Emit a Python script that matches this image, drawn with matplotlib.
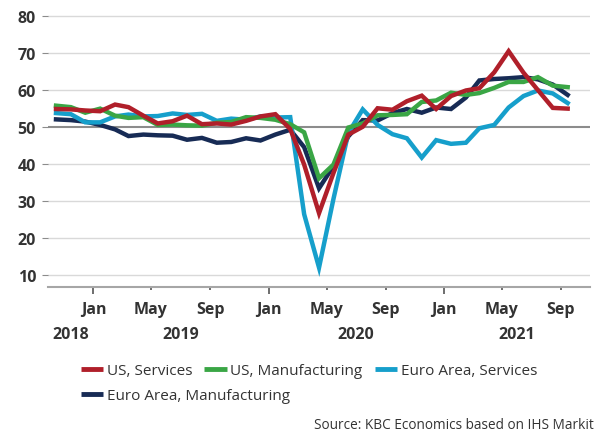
"""IHS Markit PMIs: US and Euro Area, services and manufacturing."""

import numpy as np
import pandas as pd
import matplotlib
matplotlib.use("Agg")
import matplotlib.pyplot as plt
import matplotlib.dates as mdates

plt.rcParams['font.family'] = ['Open Sans', 'DejaVu Sans']

# monthly values, Oct 2018 .. Sep 2021
months = pd.date_range('2018-10-01', periods=36, freq='MS') + pd.Timedelta(days=14)

us_services = [54.8, 54.7, 54.4, 54.2, 56.0, 55.3, 53.0, 50.9, 51.5, 53.0, 50.7, 50.9,
               50.6, 51.6, 52.8, 53.4, 49.4, 39.8, 26.7, 37.5, 47.9, 50.0, 55.0, 54.6,
               56.9, 58.4, 54.8, 58.3, 59.8, 60.4, 64.7, 70.4, 64.6, 59.9, 55.1, 54.9]
us_manufacturing = [55.7, 55.3, 53.8, 54.9, 53.0, 52.4, 52.6, 50.5, 50.6, 50.4, 50.3, 51.1,
                    51.3, 52.6, 52.4, 51.9, 50.7, 48.5, 36.1, 39.8, 49.8, 50.9, 53.1, 53.2,
                    53.4, 56.7, 57.1, 59.2, 58.6, 59.1, 60.5, 62.1, 62.1, 63.4, 61.1, 60.7]
ea_services = [53.7, 53.4, 51.2, 51.2, 52.8, 53.3, 52.8, 52.9, 53.6, 53.2, 53.5, 51.6,
               52.2, 51.9, 52.8, 52.5, 52.6, 26.4, 12.0, 30.5, 48.3, 54.7, 50.5, 48.0,
               46.9, 41.7, 46.4, 45.4, 45.7, 49.6, 50.5, 55.2, 58.3, 59.8, 59.0, 56.4]
ea_manufacturing = [52.0, 51.8, 51.4, 50.5, 49.3, 47.5, 47.9, 47.7, 47.6, 46.5, 47.0, 45.7,
                    45.9, 46.9, 46.3, 47.9, 49.2, 44.5, 33.4, 39.4, 47.4, 51.8, 51.7, 53.7,
                    54.8, 53.8, 55.2, 54.8, 57.9, 62.5, 62.9, 63.1, 63.4, 62.8, 61.4, 58.6]

series_names = ['US, Services', 'US, Manufacturing', 'Euro Area, Services',
                'Euro Area, Manufacturing']
colors = ['#B01F2A', '#3AA645', '#169FCB', '#172B55']

y_ticks = [10, 20, 30, 40, 50, 60, 70, 80]
year_labels = ['2018', '2019', '2020', '2021']
year_dates = pd.to_datetime(['2018-11-15', '2019-07-01', '2020-07-01', '2021-06-01'])

text_col = '#333333'

fig = plt.figure(figsize=(5.98, 4.35), dpi=100)
ax = fig.add_axes([0.080, 0.338, 0.907, 0.634])

# gridlines; 50 line is darker
for v in y_ticks:
    if v == 50:
        ax.axhline(v, color='#8c8c8c', lw=1.5, zorder=1)
    else:
        ax.axhline(v, color='#d9d9d9', lw=1.0, zorder=1)

zorders = [3.4, 3.3, 3.2, 3.1]
lines = []
for vals, name, c, z in zip([us_services, us_manufacturing, ea_services, ea_manufacturing],
                            series_names, colors, zorders):
    ln, = ax.plot(months, vals, color=c, lw=3.2, label=name, zorder=z,
                  solid_joinstyle='miter')
    lines.append(ln)

ax.set_ylim(6.77, 81.2)
ax.set_xlim(pd.Timestamp('2018-09-28'), pd.Timestamp('2021-11-01'))
ax.set_yticks(y_ticks)

ax.xaxis.set_major_locator(mdates.MonthLocator(bymonth=[1]))
ax.xaxis.set_major_formatter(mdates.DateFormatter('%b'))
ax.xaxis.set_minor_locator(mdates.MonthLocator(bymonth=[5, 9]))
ax.xaxis.set_minor_formatter(mdates.DateFormatter('%b'))

for s in ['top', 'right', 'left']:
    ax.spines[s].set_visible(False)
ax.spines['bottom'].set_color('#a6a6a6')
ax.spines['bottom'].set_linewidth(1.5)

ax.tick_params(axis='x', which='major', length=5, width=1.2, color='#555555',
               pad=5, labelsize=11.5, labelcolor=text_col)
ax.tick_params(axis='x', which='minor', length=2.2, width=1.2, color='#555555',
               pad=7.8, labelsize=11.5, labelcolor=text_col)
ax.tick_params(axis='y', length=4.5, width=0.8, color='#8c8c8c', pad=4,
               labelsize=11.5, labelcolor=text_col)
for lab in ax.get_xticklabels(which='both') + ax.get_yticklabels():
    lab.set_fontweight('bold')

for lab, d in zip(year_labels, year_dates):
    ax.annotate(lab, xy=(d, 0), xycoords=('data', 'axes fraction'),
                xytext=(0, -34), textcoords='offset points', ha='center', va='center',
                fontsize=11.5, fontweight='bold', color=text_col)

# legend flows like text: three entries on the first row, one on the second
leg_kw = dict(loc='upper left', frameon=False, fontsize=11, handlelength=1.45,
              handletextpad=0.25, columnspacing=0.8, borderaxespad=0, borderpad=0)
leg1 = fig.legend(handles=lines[:3], ncol=3, bbox_to_anchor=(0.135, 0.163), **leg_kw)
leg2 = fig.legend(handles=lines[3:], ncol=1, bbox_to_anchor=(0.135, 0.106), **leg_kw)
for leg in (leg1, leg2):
    for t in leg.get_texts():
        t.set_color(text_col)
    for h in leg.get_lines():
        h.set_linewidth(3.5)
        h.set_solid_capstyle('butt')

fig.text(0.993, 0.022, 'Source: KBC Economics based on IHS Markit', ha='right',
         va='center', fontsize=9.8, color=text_col)

fig.savefig('out.png', dpi=100)
